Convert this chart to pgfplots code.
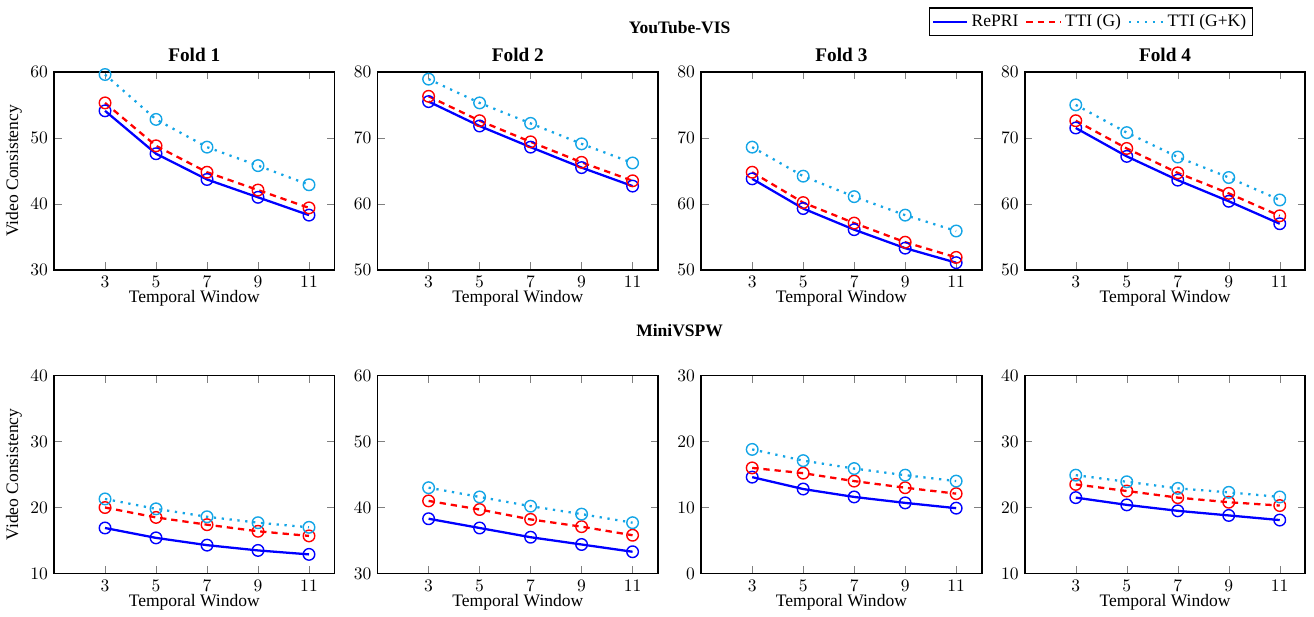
\documentclass[border=0pt]{standalone}
\usepackage{fontspec}
\setmainfont{Liberation Serif}
\usepackage{pgfplots}
\pgfplotsset{compat=1.18}
\usepgfplotslibrary{groupplots}
\usetikzlibrary{calc}
\definecolor{gkcyan}{RGB}{20,165,230}

\pgfplotsset{
  foldaxis/.style={
    scale only axis,
    width=160pt, height=113pt,
    xmin=1, xmax=12,
    xtick={3,5,7,9,11},
    xlabel={Temporal Window},
    xlabel style={yshift=5pt},
    ylabel style={yshift=-2pt},
    title style={yshift=-4pt, font=\fontsize{11}{13}\selectfont\bfseries},
    axis line style={line width=1pt},
    legend image code/.code={\draw[##1] (0cm,0cm) -- (0.68cm,0cm);},
  },
  repri/.style={blue, line width=1.3pt, mark=o, mark size=3.3pt, mark options={solid, line width=0.8pt}},
  ttig/.style={red, dash pattern=on 3.6pt off 2.8pt, line width=1.3pt, mark=o, mark size=3.3pt, mark options={solid, line width=0.8pt}},
  ttigk/.style={gkcyan, dash pattern=on 1.3pt off 3.2pt, line width=1.3pt, mark=o, mark size=3.3pt, mark options={solid, line width=0.8pt}},
}

\begin{document}
\begin{tikzpicture}
\begin{groupplot}[
  group style={group size=4 by 2, horizontal sep=24.6pt, vertical sep=60.2pt},
  foldaxis,
]
% YouTube-VIS
\nextgroupplot[title={Fold 1}, ymin=30, ymax=60, ytick={30,40,50,60}, ylabel={Video Consistency}]
\addplot[repri] coordinates {(3,54.1) (5,47.6) (7,43.7) (9,41.0) (11,38.3)};
\addplot[ttig] coordinates {(3,55.3) (5,48.8) (7,44.8) (9,42.1) (11,39.4)};
\addplot[ttigk] coordinates {(3,59.6) (5,52.8) (7,48.6) (9,45.8) (11,42.9)};

\nextgroupplot[title={Fold 2}, ymin=50, ymax=80, ytick={50,60,70,80}]
\addplot[repri] coordinates {(3,75.5) (5,71.8) (7,68.6) (9,65.5) (11,62.7)};
\addplot[ttig] coordinates {(3,76.3) (5,72.6) (7,69.4) (9,66.3) (11,63.5)};
\addplot[ttigk] coordinates {(3,78.9) (5,75.3) (7,72.2) (9,69.1) (11,66.2)};

\nextgroupplot[title={Fold 3}, ymin=50, ymax=80, ytick={50,60,70,80}]
\addplot[repri] coordinates {(3,63.8) (5,59.3) (7,56.1) (9,53.3) (11,51.1)};
\addplot[ttig] coordinates {(3,64.8) (5,60.2) (7,57.1) (9,54.2) (11,51.9)};
\addplot[ttigk] coordinates {(3,68.6) (5,64.2) (7,61.1) (9,58.3) (11,55.9)};

\nextgroupplot[title={Fold 4}, ymin=50, ymax=80, ytick={50,60,70,80},
  legend columns=-1,
  legend style={at={(0.814,1.325)}, anchor=north east, draw=black, line width=0.8pt,
    inner sep=1.5pt, /tikz/every even column/.append style={column sep=2pt}},
]
\addplot[repri] coordinates {(3,71.5) (5,67.2) (7,63.6) (9,60.4) (11,57.0)};
\addplot[ttig] coordinates {(3,72.6) (5,68.4) (7,64.7) (9,61.6) (11,58.2)};
\addplot[ttigk] coordinates {(3,75.0) (5,70.8) (7,67.1) (9,64.0) (11,60.6)};
\legend{RePRI, TTI (G), TTI (G+K)}

% MiniVSPW
\nextgroupplot[ymin=10, ymax=40, ytick={10,20,30,40}, ylabel={Video Consistency}]
\addplot[repri] coordinates {(3,16.9) (5,15.4) (7,14.3) (9,13.5) (11,12.9)};
\addplot[ttig] coordinates {(3,20.0) (5,18.5) (7,17.4) (9,16.4) (11,15.7)};
\addplot[ttigk] coordinates {(3,21.3) (5,19.8) (7,18.6) (9,17.7) (11,17.0)};

\nextgroupplot[ymin=30, ymax=60, ytick={30,40,50,60}]
\addplot[repri] coordinates {(3,38.3) (5,36.9) (7,35.5) (9,34.4) (11,33.3)};
\addplot[ttig] coordinates {(3,41.0) (5,39.7) (7,38.2) (9,37.1) (11,35.8)};
\addplot[ttigk] coordinates {(3,43.0) (5,41.6) (7,40.2) (9,39.0) (11,37.7)};

\nextgroupplot[ymin=0, ymax=30, ytick={0,10,20,30}]
\addplot[repri] coordinates {(3,14.6) (5,12.8) (7,11.6) (9,10.7) (11,9.9)};
\addplot[ttig] coordinates {(3,16.0) (5,15.2) (7,14.0) (9,13.0) (11,12.1)};
\addplot[ttigk] coordinates {(3,18.8) (5,17.1) (7,15.9) (9,14.9) (11,14.0)};

\nextgroupplot[ymin=10, ymax=40, ytick={10,20,30,40}]
\addplot[repri] coordinates {(3,21.5) (5,20.4) (7,19.5) (9,18.8) (11,18.1)};
\addplot[ttig] coordinates {(3,23.5) (5,22.5) (7,21.5) (9,20.8) (11,20.3)};
\addplot[ttigk] coordinates {(3,24.9) (5,23.9) (7,22.9) (9,22.3) (11,21.6)};
\end{groupplot}

\node[font=\bfseries] at ($($(group c2r1.north east)!0.5!(group c3r1.north west)$)+(0,25pt)$) {YouTube-VIS};
\node[font=\bfseries] at ($($(group c2r2.north east)!0.5!(group c3r2.north west)$)+(0,25.5pt)$) {MiniVSPW};
\path ($(group c4r1.north east)+(0,41pt)$) -- ++(5pt,0);
\end{tikzpicture}
\end{document}
